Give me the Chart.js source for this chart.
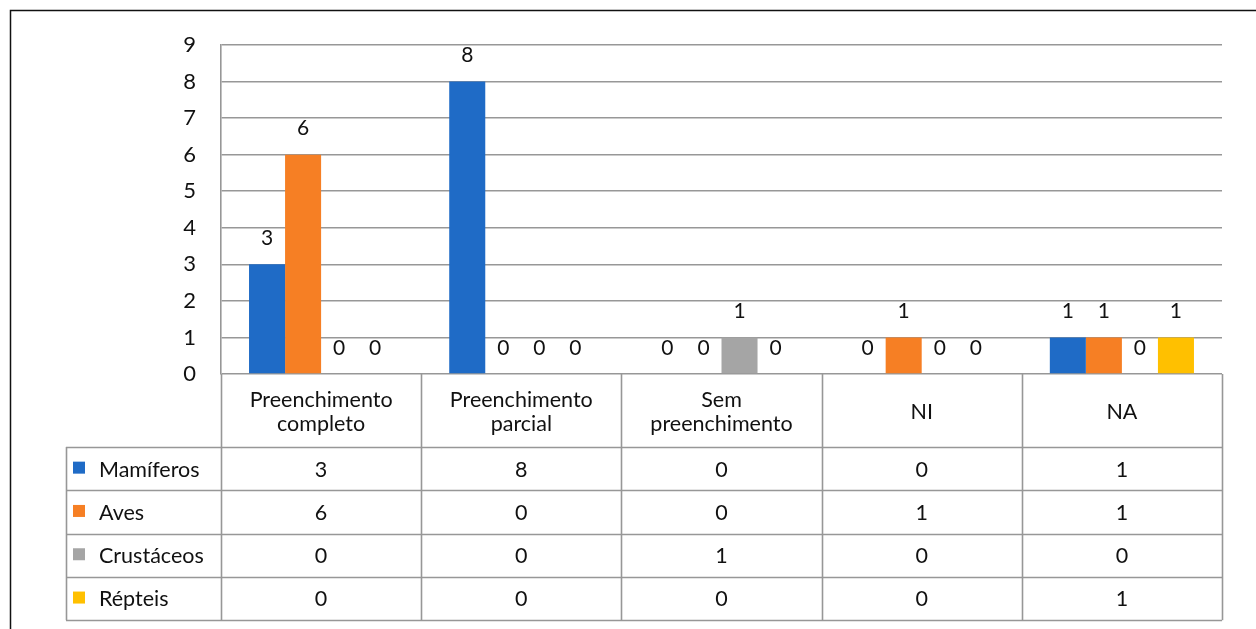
<!DOCTYPE html>
<html>
<head>
<meta charset="utf-8">
<script src="https://cdn.jsdelivr.net/npm/chart.js@4/dist/chart.umd.min.js"></script>
<style>
    html, body { margin: 0; padding: 0; background: #fff; }
    #wrap { position: relative; width: 1256px; height: 629px; }
</style>
</head>
<body>
<div id="wrap"><canvas id="chart"></canvas></div>
<script>
const categories = [
    ['Preenchimento', 'completo'],
    ['Preenchimento', 'parcial'],
    ['Sem', 'preenchimento'],
    ['NI'],
    ['NA']
];
const seriesNames = ['Mamíferos', 'Aves', 'Crustáceos', 'Répteis'];
const seriesColors = ['#1f6bc6', '#f67f24', '#a5a5a5', '#ffc000'];
const mamiferos = [3, 8, 0, 0, 1];
const aves = [6, 0, 0, 1, 1];
const crustaceos = [0, 0, 1, 0, 0];
const repteis = [0, 0, 0, 0, 1];
const yTicks = [0, 1, 2, 3, 4, 5, 6, 7, 8, 9];

const seriesValues = [mamiferos, aves, crustaceos, repteis];
const FONT = 'Lato, "Open Sans", sans-serif';
const lineColor = '#979797';

// value labels above the bars
const barLabels = {
    id: 'barLabels',
    afterDatasetsDraw(chart) {
        const ctx = chart.ctx;
        ctx.save();
        ctx.fillStyle = '#111';
        ctx.font = '21px ' + FONT;
        ctx.textAlign = 'center';
        ctx.textBaseline = 'middle';
        chart.data.datasets.forEach((ds, i) => {
            chart.getDatasetMeta(i).data.forEach((bar, j) => {
                ctx.fillText(String(ds.data[j]), bar.x, bar.y - 26);
            });
        });
        ctx.restore();
    }
};

// data table under the plot + outer frame
const dataTable = {
    id: 'dataTable',
    afterDraw(chart) {
        const ctx = chart.ctx;
        const area = chart.chartArea;
        const x = chart.scales.x;
        const colW = (area.right - area.left) / categories.length;
        const headerBottom = area.bottom + 73;
        const rowH = 43.3;
        const tableLeft = 66;
        const tableBottom = headerBottom + rowH * seriesNames.length;

        ctx.save();
        ctx.strokeStyle = lineColor;
        ctx.lineWidth = 1.6;

        // vertical lines at category boundaries
        for (let i = 0; i <= categories.length; i++) {
            const px = Math.round(area.left + i * colW) + 0.5;
            ctx.beginPath();
            ctx.moveTo(px, area.bottom);
            ctx.lineTo(px, tableBottom);
            ctx.stroke();
        }
        // horizontal lines
        for (let r = 0; r <= seriesNames.length; r++) {
            const py = Math.round(headerBottom + r * rowH) + 0.5;
            ctx.beginPath();
            ctx.moveTo(tableLeft, py);
            ctx.lineTo(area.right, py);
            ctx.stroke();
        }
        ctx.beginPath();
        ctx.moveTo(tableLeft + 0.5, headerBottom);
        ctx.lineTo(tableLeft + 0.5, tableBottom);
        ctx.stroke();

        ctx.fillStyle = '#111';
        ctx.font = '21.5px ' + FONT;
        ctx.textAlign = 'center';
        ctx.textBaseline = 'middle';

        // header labels
        categories.forEach((lines, i) => {
            const cx = x.getPixelForTick(i);
            const cy = (area.bottom + headerBottom) / 2 + 2;
            const lh = 24;
            lines.forEach((t, k) => {
                ctx.fillText(t, cx, cy + (k - (lines.length - 1) / 2) * lh);
            });
        });

        // rows
        seriesNames.forEach((name, r) => {
            const cy = headerBottom + rowH * (r + 0.5) + 1;
            ctx.fillStyle = seriesColors[r];
            ctx.fillRect(tableLeft + 7, cy - 8, 12, 12);
            ctx.fillStyle = '#111';
            ctx.textAlign = 'left';
            ctx.fillText(name, tableLeft + 33, cy);
            ctx.textAlign = 'center';
            seriesValues[r].forEach((v, i) => {
                ctx.fillText(String(v), x.getPixelForTick(i), cy);
            });
        });

        // outer frame
        ctx.strokeStyle = '#111';
        ctx.lineWidth = 1.5;
        ctx.strokeRect(10.5, 10.5, chart.width, chart.height);
        ctx.restore();
    }
};

new Chart(document.getElementById('chart'), {
    type: 'bar',
    data: {
        labels: categories.map(c => c.join(' ')),
        datasets: seriesNames.map((name, i) => ({
            label: name,
            data: seriesValues[i],
            backgroundColor: seriesColors[i],
            borderWidth: 0,
            categoryPercentage: 0.72,
            barPercentage: 1.0
        }))
    },
    options: {
        responsive: true,
        maintainAspectRatio: false,
        animation: false,
        layout: {
            padding: { top: 45, right: 34, bottom: 255, left: 0 }
        },
        plugins: {
            legend: { display: false },
            tooltip: { enabled: false }
        },
        scales: {
            x: {
                display: false
            },
            y: {
                min: yTicks[0],
                max: yTicks[yTicks.length - 1],
                afterFit: (scale) => { scale.width = 221; },
                afterBuildTicks: (scale) => { scale.ticks = yTicks.map(v => ({ value: v })); },
                ticks: {
                    color: '#111',
                    font: { size: 22, family: FONT },
                    padding: 25
                },
                grid: {
                    color: lineColor,
                    lineWidth: 1.6,
                    drawTicks: false
                },
                border: {
                    color: lineColor,
                    width: 1.6
                }
            }
        }
    },
    plugins: [barLabels, dataTable]
});
</script>
</body>
</html>
